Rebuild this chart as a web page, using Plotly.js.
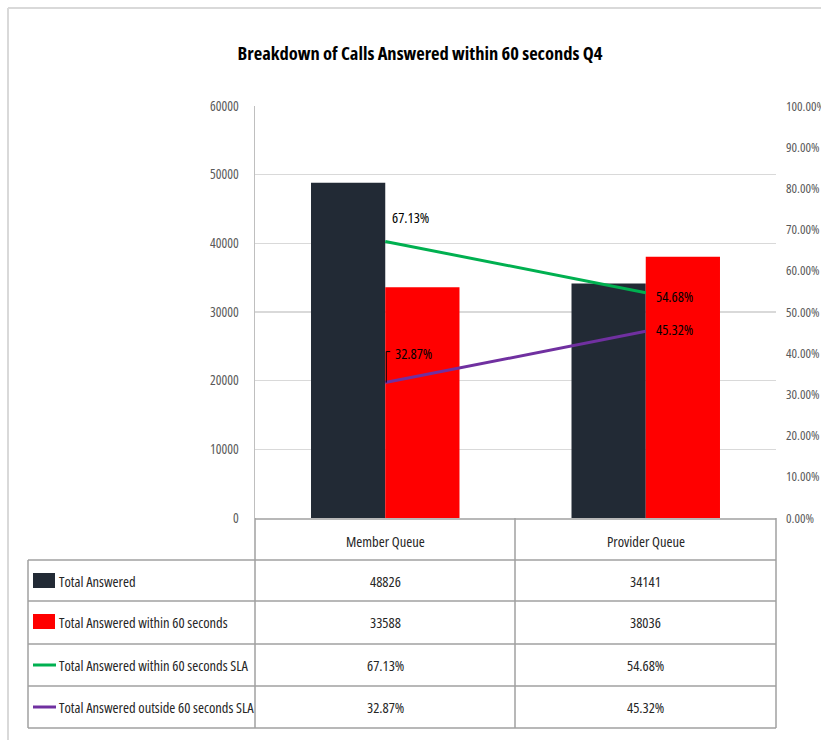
<!DOCTYPE html>
<html>
<head>
<meta charset="utf-8">
<script src="https://cdn.plot.ly/plotly-3.0.1.min.js"></script>
<style>
  html, body { margin: 0; padding: 0; background: #ffffff; }
  #chart { width: 821px; height: 740px; }
  /* narrow face for every svg text, including Plotly's text-measuring node */
  svg text { font-stretch: condensed !important; }
</style>
</head>
<body>
<div id="chart"></div>
<script>
// Queues on the category axis
const queues = ['Member Queue', 'Provider Queue'];

// Call counts (left axis)
const totalAnswered = [48826, 34141];
const answeredWithin60 = [33588, 38036];

// Service-level percentages (right axis)
const slaWithin = [67.13, 54.68];
const slaOutside = [32.87, 45.32];

// Series names, shown in the data table under the chart
const seriesNames = [
  'Total Answered',
  'Total Answered within 60 seconds',
  'Total Answered within 60 seconds SLA',
  'Total Answered outside 60 seconds SLA'
];

const colors = ['#222A35', '#FF0000', '#00B050', '#7030A0'];
const FONT = '"Open Sans", "DejaVu Sans Condensed", sans-serif';

// Plot area in pixels
const W = 821, H = 740;
const L = 255, R = 776, T = 106, B = 518;
const px = x => (x - L) / (R - L);
const py = y => (B - y) / (B - T);

const fmtPct = v => v.toFixed(2) + '%';

const traces = [
  {
    type: 'bar', name: seriesNames[0], x: queues, y: totalAnswered,
    marker: { color: colors[0] }, hoverinfo: 'skip'
  },
  {
    type: 'bar', name: seriesNames[1], x: queues, y: answeredWithin60,
    marker: { color: colors[1] }, hoverinfo: 'skip'
  },
  {
    type: 'scatter', mode: 'lines', name: seriesNames[2], x: queues, y: slaWithin,
    yaxis: 'y2', line: { color: colors[2], width: 3 }, hoverinfo: 'skip'
  },
  {
    type: 'scatter', mode: 'lines', name: seriesNames[3], x: queues, y: slaOutside,
    yaxis: 'y2', line: { color: colors[3], width: 3 }, hoverinfo: 'skip'
  }
];

const gridCol = '#D9D9D9';
const tableLine = '#A0A0A0';
const textCol = '#262626';
const shapes = [];
const annotations = [];

function hLine(x0, x1, y, color, width) {
  shapes.push({ type: 'line', xref: 'paper', yref: 'paper',
    x0: px(x0), x1: px(x1), y0: py(y), y1: py(y),
    line: { color: color, width: width } });
}
function vLine(x, y0, y1, color, width) {
  shapes.push({ type: 'line', xref: 'paper', yref: 'paper',
    x0: px(x), x1: px(x), y0: py(y0), y1: py(y1),
    line: { color: color, width: width } });
}

// Outer chart frame
hLine(8, 830, 8, '#D9D9D9', 2);
vLine(8, 8, 745, '#D9D9D9', 2);

// Data table grid
const rowEdges = [560, 601, 644, 686, 728];
hLine(255, 776, 519, tableLine, 1.5);
rowEdges.forEach(y => hLine(28, 776, y, tableLine, 1.5));
vLine(28, 560, 728, tableLine, 1.5);
vLine(255, 518, 728, tableLine, 1.5);
vLine(515, 518, 728, tableLine, 1.5);
vLine(776, 518, 728, tableLine, 1.5);

// Column headers
queues.forEach(q => annotations.push({
  xref: 'x', yref: 'paper', x: q, y: py(541), text: q, showarrow: false,
  xanchor: 'center', yanchor: 'middle', font: { family: FONT, size: 14.5, color: textCol }
}));

// Table rows: legend key, series name, values
const rowCenters = [581, 622, 665, 707];
const rowValues = [
  totalAnswered.map(String),
  answeredWithin60.map(String),
  slaWithin.map(fmtPct),
  slaOutside.map(fmtPct)
];
rowCenters.forEach((yc, i) => {
  if (i < 2) {
    shapes.push({ type: 'rect', xref: 'paper', yref: 'paper',
      x0: px(33), x1: px(55), y0: py(yc - 8), y1: py(yc + 7),
      fillcolor: colors[i], line: { width: 0 } });
  } else {
    hLine(33, 56, yc, colors[i], 3);
  }
  annotations.push({
    xref: 'paper', yref: 'paper', x: px(57), y: py(yc), text: seriesNames[i],
    showarrow: false, xanchor: 'left', yanchor: 'middle',
    font: { family: FONT, size: 14.5, color: textCol }
  });
  queues.forEach((q, j) => annotations.push({
    xref: 'x', yref: 'paper', x: q, y: py(yc), text: rowValues[i][j],
    showarrow: false, xanchor: 'center', yanchor: 'middle',
    font: { family: FONT, size: 14.5, color: textCol }
  }));
});

// Data labels on the SLA lines
const labelShifts = [
  [[5, 24], [8, -4]],    // within SLA: Member, Provider
  [[8, 29], [8, 2]]      // outside SLA
];
[slaWithin, slaOutside].forEach((series, s) => {
  series.forEach((v, j) => annotations.push({
    xref: 'x', yref: 'y2', x: queues[j], y: v, text: fmtPct(v), showarrow: false,
    xanchor: 'left', yanchor: 'middle',
    xshift: labelShifts[s][j][0], yshift: labelShifts[s][j][1],
    font: { family: FONT, size: 14.5, color: '#000000' }
  }));
});

// Leader line for the Member Queue "outside SLA" label
shapes.push({
  type: 'path', xref: 'x', yref: 'y2', xsizemode: 'pixel', ysizemode: 'pixel',
  xanchor: queues[0], yanchor: slaOutside[0],
  path: 'M 1 0 L 1 31 L 5 31',
  line: { color: '#000000', width: 1 }
});

const layout = {
  width: W, height: H,
  margin: { l: L, r: W - R, t: T, b: H - B, pad: 0 },
  paper_bgcolor: '#FFFFFF', plot_bgcolor: '#FFFFFF',
  showlegend: false,
  barmode: 'group', bargap: 0.43, bargroupgap: 0,
  font: { family: FONT, size: 13, color: '#595959' },
  title: {
    text: 'Breakdown of Calls Answered within 60 seconds Q4',
    font: { family: FONT, size: 18.5, color: '#000000', weight: 'bold' },
    x: 420 / W, xref: 'container', xanchor: 'center', y: 1 - 54 / H, yanchor: 'middle'
  },
  xaxis: {
    type: 'category', showticklabels: false, ticks: '',
    showgrid: false, zeroline: false, showline: false, fixedrange: true
  },
  yaxis: {
    range: [0, 60000], dtick: 10000, tickformat: 'd',
    showgrid: true, gridcolor: gridCol, gridwidth: 1.5,
    zeroline: false, showline: true, linecolor: '#BFBFBF', linewidth: 1.5,
    ticks: '', ticklabelstandoff: 12,
    tickfont: { family: FONT, size: 13.5, color: '#595959' }, fixedrange: true
  },
  yaxis2: {
    overlaying: 'y', side: 'right', range: [0, 100], dtick: 10,
    tickformat: '.2f', ticksuffix: '%',
    showgrid: false, zeroline: false, showline: false, ticks: '',
    ticklabelstandoff: 9,
    tickfont: { family: FONT, size: 13, color: '#595959' }, fixedrange: true
  },
  shapes: shapes,
  annotations: annotations
};

Plotly.newPlot('chart', traces, layout, { staticPlot: true, displayModeBar: false });
</script>
</body>
</html>
